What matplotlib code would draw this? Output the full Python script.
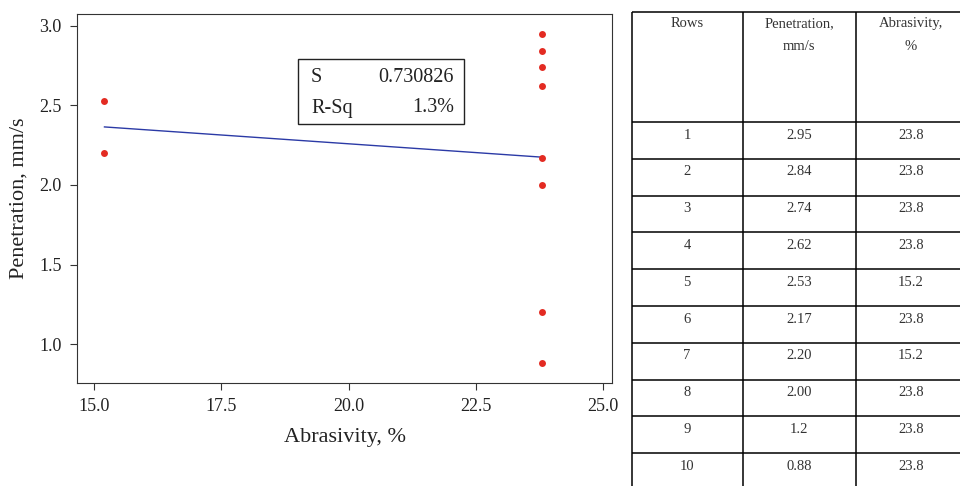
import numpy as np
import matplotlib.pyplot as plt

plt.rcParams['font.family'] = ['Liberation Serif', 'DejaVu Serif']

# data (rows of the table)
rows = [1, 2, 3, 4, 5, 6, 7, 8, 9, 10]
penetration = [2.95, 2.84, 2.74, 2.62, 2.53, 2.17, 2.20, 2.00, 1.2, 0.88]
pen_labels = ['2.95', '2.84', '2.74', '2.62', '2.53', '2.17', '2.20', '2.00', '1.2', '0.88']
abrasivity = [23.8, 23.8, 23.8, 23.8, 15.2, 23.8, 15.2, 23.8, 23.8, 23.8]
headers = ['Rows', 'Penetration,\nmm/s', 'Abrasivity,\n%']
stat_names = ['S', 'R-Sq']
stat_values = ['0.730826', '1.3%']

x = np.array(abrasivity)
y = np.array(penetration)
b, a = np.polyfit(x, y, 1)
xl = np.array([x.min(), x.max()])

fig = plt.figure(figsize=(9.6, 4.86), dpi=100)
ax = fig.add_axes([77 / 960, 1 - 383 / 486, (612 - 77) / 960, (383 - 14) / 486])
ax.plot(xl, a + b * xl, color='#2b3aa6', lw=1.0)
ax.plot(x, y, 'o', color='#e32b22', ms=5, mec='none')
ax.set_xlim(14.66, 25.18)
ax.set_ylim(0.755, 3.075)
ax.set_xticks([15.0, 17.5, 20.0, 22.5, 25.0])
ax.set_yticks([1.0, 1.5, 2.0, 2.5, 3.0])
ax.xaxis.set_major_formatter(plt.FormatStrFormatter('%.1f'))
ax.yaxis.set_major_formatter(plt.FormatStrFormatter('%.1f'))
ax.tick_params(labelsize=13, color='#333333', labelcolor='#222222', length=5, pad=6)
for s in ax.spines.values():
    s.set_color('#333333')
ax.set_xlabel('Abrasivity, %', fontsize=16, labelpad=9, color='#222222')
ax.set_ylabel('Penetration, mm/s', fontsize=16, labelpad=8, color='#222222')

# stats box
box = plt.Rectangle((298 / 960, 1 - 124 / 486), (464 - 298) / 960, (124 - 59) / 486,
                    transform=fig.transFigure, fill=False, ec='#222222', lw=1.0)
fig.patches.append(box)
for i, (n, v) in enumerate(zip(stat_names, stat_values)):
    yy = 1 - (77 + i * 31) / 486
    fig.text(311 / 960, yy, n, fontsize=14.5, va='center', ha='left', color='#222222')
    fig.text(454 / 960, yy, v, fontsize=14.5, va='center', ha='right', color='#222222')

# table
tx = fig.add_axes([0, 0, 1, 1], zorder=-1)
tx.set_xlim(0, 960)
tx.set_ylim(486, 0)
tx.axis('off')
col_edges = [632, 743, 856, 975]
header_top = 12
header_bot = 122
row_h = 36.8
bottom = header_bot + row_h * len(rows)
tx.vlines(col_edges, header_top, bottom, color='black', lw=1.1)
tx.hlines(header_top, col_edges[0], col_edges[-1], color='black', lw=1.1)
for i in range(len(rows) + 1):
    tx.hlines(header_bot + i * row_h, col_edges[0], col_edges[-1], color='black', lw=1.1)
centers = [687, 799, 911]
for j, h in enumerate(headers):
    tx.text(centers[j], header_top + 5, h, ha='center', va='top', fontsize=10.5,
            linespacing=2.0, color='#333333')
for i in range(len(rows)):
    yy = header_bot + i * row_h + 13
    cells = [str(rows[i]), pen_labels[i], '%.1f' % abrasivity[i]]
    for j, c in enumerate(cells):
        tx.text(centers[j], yy, c, ha='center', va='center', fontsize=10.5, color='#333333')

fig.savefig('out.png', dpi=100)
